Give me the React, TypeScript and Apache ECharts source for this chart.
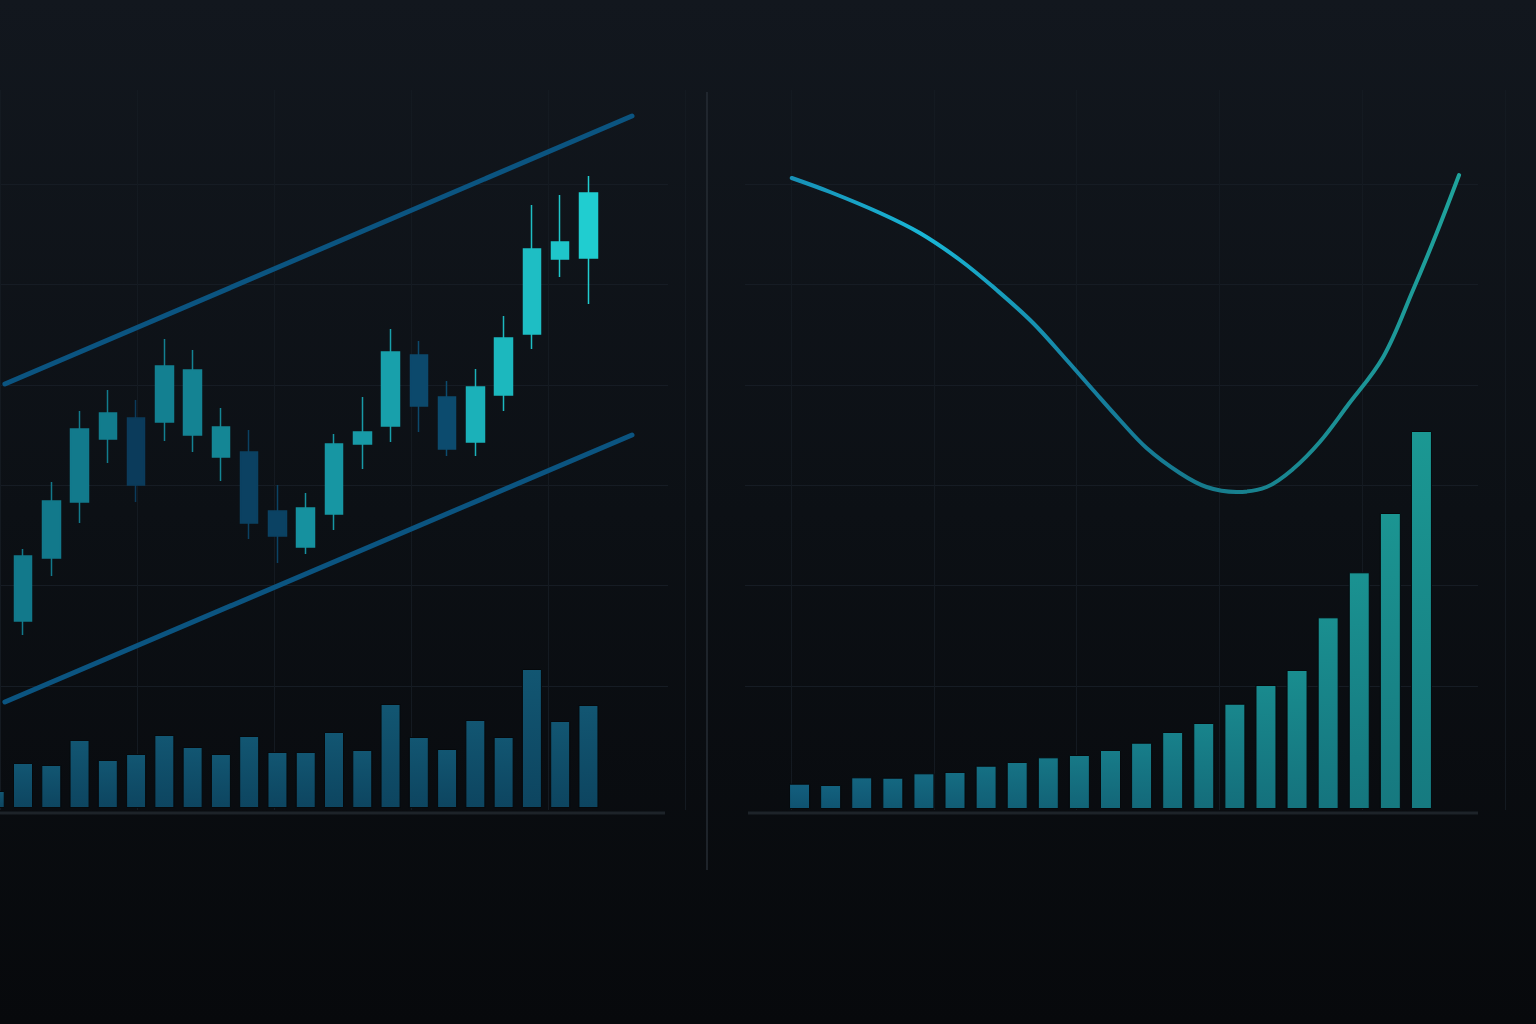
import React, { useEffect, useRef } from "react";
import * as echarts from "echarts";

// ---------- DATA ----------
const candleDays = ["D0","D1","D2","D3","D4","D5","D6","D7","D8","D9","D10","D11","D12","D13","D14","D15","D16","D17","D18","D19","D20","D21"];
// [open, close, low, high]
const candleOHLC: (number[] | null)[] = [
  null,
  [35.8, 48.8, 33.0, 50.2],
  [48.4, 59.8, 44.8, 63.6],
  [59.6, 74.2, 55.4, 77.8],
  [72.2, 77.4, 67.4, 82.0],
  [76.4, 63.0, 59.6, 80.0],
  [75.6, 86.8, 71.8, 92.2],
  [73.0, 86.0, 69.6, 90.0],
  [68.6, 74.6, 63.8, 78.4],
  [69.6, 55.4, 52.2, 74.0],
  [57.8, 52.8, 47.4, 63.0],
  [50.6, 58.4, 49.2, 61.4],
  [57.2, 71.2, 54.0, 73.2],
  [71.2, 73.6, 66.2, 80.6],
  [74.8, 89.6, 71.6, 94.2],
  [89.0, 78.8, 73.6, 91.8],
  [80.6, 70.2, 68.8, 83.8],
  [71.6, 82.6, 68.8, 86.2],
  [81.0, 92.4, 77.8, 96.8],
  [93.2, 110.2, 90.2, 119.0],
  [108.2, 111.6, 104.6, 121.0],
  [108.4, 121.4, 99.2, 124.8],
];
const volumes = [17, 45, 43, 68, 48, 54, 73, 61, 54, 72, 56, 56, 76, 58, 104, 71, 59, 88, 71, 139, 87, 103];
const channelX = [0.36, 22.54];
const channelUpper = [83.2, 136.8];
const channelLower = [19.6, 73.0];

const growthCats = ["P1","P2","P3","P4","P5","P6","P7","P8","P9","P10","P11","P12","P13","P14","P15","P16","P17","P18","P19","P20","P21"];
const growthValues = [25.3, 24, 31.7, 31.3, 35.7, 37, 43.3, 47, 51.7, 54, 59, 66.3, 77, 86, 105.3, 124, 139, 191.7, 236.7, 296, 378];
const curveX = [-0.25, 0.98, 2.59, 3.87, 5.16, 6.34, 7.51, 8.59, 9.44, 10.3, 11.16, 12.23, 13.09, 14.05, 15.02, 15.87, 16.73, 17.59, 18.77, 19.73, 20.49, 21.21];
const curveY = [631, 617, 596, 576, 549, 519, 486, 449, 419, 389, 361, 336, 322, 317, 322, 340, 367, 402, 452, 519, 576, 634];

// ---------- STYLE HELPERS ----------
function hexToRgb(h: string) {
  const n = parseInt(h.slice(1), 16);
  return [(n >> 16) & 255, (n >> 8) & 255, n & 255];
}
function mix(a: string, b: string, t: number) {
  const A = hexToRgb(a), B = hexToRgb(b);
  const c = A.map((v, i) => Math.round(v + (B[i] - v) * t));
  return "#" + c.map((v) => v.toString(16).padStart(2, "0")).join("");
}

const OX = 24; // container is shifted left by OX px so the first partial bar can be drawn

export default function App() {
  const ref = useRef<HTMLDivElement>(null);
  useEffect(() => {
    if (!ref.current) return;
    const chart = echarts.init(ref.current, undefined, { renderer: "svg" });

    const n = candleOHLC.length;
    const candleData = candleOHLC.map((d, i) => {
      if (!d) return "-";
      const up = d[1] >= d[0];
      const t = (i - 1) / (n - 2);
      const c = up ? mix("#12798b", "#20cdd0", Math.pow(t, 1.8)) : mix("#0a3554", "#0d5276", t);
      return {
        value: d,
        itemStyle: { color: c, color0: c, borderColor: c, borderColor0: c },
      };
    });

    const volData = volumes.map((v) => ({
      value: v,
      itemStyle: {
        color: new echarts.graphic.LinearGradient(0, 0, 0, 1, [
          { offset: 0, color: "#125672" },
          { offset: 1, color: "#0d4560" },
        ]),
      },
    }));

    const gData = growthValues.map((v, i) => {
      const t = i / (growthValues.length - 1);
      return {
        value: v,
        itemStyle: {
          color: new echarts.graphic.LinearGradient(0, 0, 0, 1, [
            { offset: 0, color: mix("#135f7e", "#1b9893", t) },
            { offset: 1, color: mix("#0f5270", "#167a80", t) },
          ]),
        },
      };
    });

    const gridLineColor = "#141a21";
    const hiddenVal = (extra: any) => ({
      type: "value",
      show: true,
      axisLine: { show: false },
      axisTick: { show: false },
      axisLabel: { show: false },
      splitLine: { show: false },
      ...extra,
    });

    const band = 622 / 22;
    const rBand = 653 / 21;

    const option: any = {
      animation: false,
      backgroundColor: new echarts.graphic.LinearGradient(0, 0, 0, 1, [
        { offset: 0, color: "#12171e" },
        { offset: 0.5, color: "#0c1015" },
        { offset: 1, color: "#07090c" },
      ]),
      grid: [
        { left: OX - 19.4, width: 622, top: 0, height: 800 },
        { left: OX - 19.4, width: 622, top: 608, height: 200 },
        { left: OX + 784, width: 653, top: 9, height: 800 },
        { left: OX, width: 668, top: 184, height: 502 },
        { left: OX, width: 685, top: 90, height: 720 },
        { left: OX + 745, width: 733, top: 184, height: 502 },
        { left: OX + 791, width: 714, top: 90, height: 720 },
        { left: OX - 19.4, width: band * 24, top: 0, height: 800 },
        { left: OX + 784, width: rBand * 23, top: 9, height: 800 },
      ],
      xAxis: [
        { type: "category", gridIndex: 0, data: candleDays, show: false },
        { type: "category", gridIndex: 1, data: candleDays, show: false },
        hiddenVal({ gridIndex: 7, min: -0.5, max: 23.5, show: false }),
        { type: "category", gridIndex: 2, data: growthCats, show: false },
        hiddenVal({ gridIndex: 8, min: -0.5, max: 22.5, show: false }),
        hiddenVal({ gridIndex: 3, min: 0, max: 5, interval: 1 }),
        hiddenVal({ gridIndex: 4, min: 0, max: 5, interval: 1, splitLine: { show: true, lineStyle: { color: gridLineColor, width: 1 } } }),
        hiddenVal({ gridIndex: 5, min: 0, max: 5, interval: 1 }),
        hiddenVal({ gridIndex: 6, min: 0, max: 5, interval: 1, splitLine: { show: true, lineStyle: { color: gridLineColor, width: 1 } } }),
      ],
      yAxis: [
        hiddenVal({ gridIndex: 0, min: 0, max: 160, show: false }),
        hiddenVal({ gridIndex: 1, min: 0, max: 200, show: false }),
        hiddenVal({ gridIndex: 2, min: 0, max: 800, show: false }),
        hiddenVal({ gridIndex: 3, min: 0, max: 5, interval: 1, splitLine: { show: true, lineStyle: { color: "#161c24", width: 1.2 } } }),
        hiddenVal({ gridIndex: 4, min: 0, max: 5, interval: 1 }),
        hiddenVal({ gridIndex: 5, min: 0, max: 5, interval: 1, splitLine: { show: true, lineStyle: { color: "#161c24", width: 1.2 } } }),
        hiddenVal({ gridIndex: 6, min: 0, max: 5, interval: 1 }),
        hiddenVal({ gridIndex: 7, min: 0, max: 160, show: false }),
        hiddenVal({ gridIndex: 8, min: 0, max: 800, show: false }),
      ],
      series: [
        { type: "line", xAxisIndex: 5, yAxisIndex: 3, data: [], silent: true },
        { type: "line", xAxisIndex: 6, yAxisIndex: 4, data: [], silent: true },
        { type: "line", xAxisIndex: 7, yAxisIndex: 5, data: [], silent: true },
        { type: "line", xAxisIndex: 8, yAxisIndex: 6, data: [], silent: true },
        {
          name: "Upper channel",
          type: "line",
          xAxisIndex: 2,
          yAxisIndex: 7,
          data: channelX.map((x, i) => [x, channelUpper[i]]),
          symbol: "none",
          lineStyle: { color: "#0b5480", width: 5, cap: "round" },
          z: 2,
        },
        {
          name: "Lower channel",
          type: "line",
          xAxisIndex: 2,
          yAxisIndex: 7,
          data: channelX.map((x, i) => [x, channelLower[i]]),
          symbol: "none",
          lineStyle: { color: "#0b5480", width: 5, cap: "round" },
          z: 2,
        },
        {
          name: "Price",
          type: "candlestick",
          xAxisIndex: 0,
          yAxisIndex: 0,
          barWidth: 18,
          data: candleData,
          itemStyle: { borderWidth: 1.5 },
          z: 3,
        },
        {
          name: "Volume",
          type: "bar",
          xAxisIndex: 1,
          yAxisIndex: 1,
          barWidth: 20,
          data: volData,
          itemStyle: { borderColor: "#06090c", borderWidth: 1 },
        },
        {
          name: "Growth",
          type: "bar",
          xAxisIndex: 3,
          yAxisIndex: 2,
          barWidth: 21,
          data: gData,
          itemStyle: { borderColor: "#06090c", borderWidth: 1 },
        },
        {
          name: "Trend",
          type: "line",
          xAxisIndex: 4,
          yAxisIndex: 8,
          data: curveX.map((x, i) => [x, curveY[i]]),
          smooth: 0.35,
          symbol: "none",
          lineStyle: {
            width: 4,
            cap: "round",
            join: "round",
            color: new echarts.graphic.LinearGradient(0, 0, 1, 0, [
              { offset: 0, color: "#1790b6" },
              { offset: 0.2, color: "#19b6d6" },
              { offset: 0.45, color: "#157e9e" },
              { offset: 0.62, color: "#167a8c" },
              { offset: 1, color: "#1fa39c" },
            ]),
          },
          z: 4,
        },
      ],
      graphic: [
        { type: "line", shape: { x1: OX + 707, y1: 92, x2: OX + 707, y2: 870 }, style: { stroke: "#262c34", lineWidth: 1.5 }, silent: true },
        { type: "line", shape: { x1: OX + 0, y1: 813, x2: OX + 665, y2: 813 }, style: { stroke: "#1d2329", lineWidth: 3 }, silent: true },
        { type: "line", shape: { x1: OX + 748, y1: 813, x2: OX + 1478, y2: 813 }, style: { stroke: "#1d2329", lineWidth: 3 }, silent: true },
      ],
    };
    chart.setOption(option);
    return () => chart.dispose();
  }, []);
  return (
    <div
      ref={ref}
      style={{ position: "fixed", left: -OX, top: 0, width: 1536 + OX, height: 1024 }}
    />
  );
}
